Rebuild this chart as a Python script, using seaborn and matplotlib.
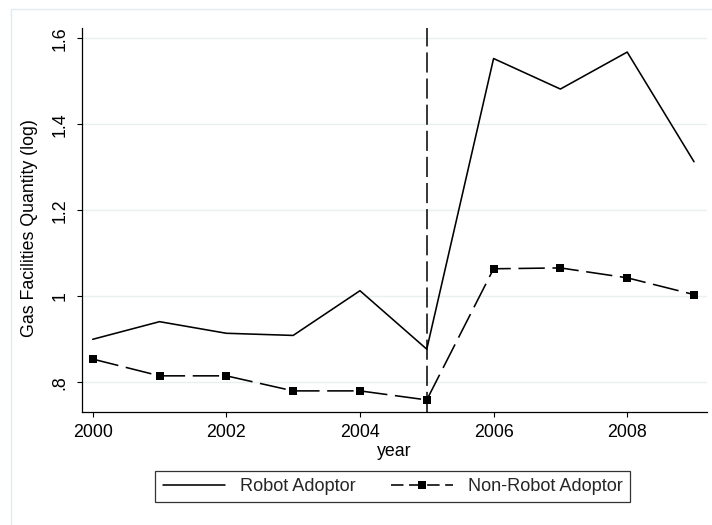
import matplotlib
matplotlib.use("Agg")
import matplotlib.pyplot as plt
from matplotlib.patches import Rectangle
import seaborn as sns
import pandas as pd

# Series values by year
years = [2000, 2001, 2002, 2003, 2004, 2005, 2006, 2007, 2008, 2009]
robot = [0.900, 0.941, 0.914, 0.909, 1.013, 0.877, 1.553, 1.482, 1.568, 1.313]
non_robot = [0.854, 0.815, 0.815, 0.780, 0.780, 0.759, 1.064, 1.066, 1.043, 1.004]
series_names = ["Robot Adoptor", "Non-Robot Adoptor"]

y_ticks = [0.8, 1.0, 1.2, 1.4, 1.6]
y_tick_labels = [".8", "1", "1.2", "1.4", "1.6"]
x_ticks = [2000, 2002, 2004, 2006, 2008]
event_year = 2005

sns.set_theme(style="white")
plt.rcParams["font.family"] = ["Liberation Sans", "DejaVu Sans"]
plt.rcParams["lines.scale_dashes"] = False

FS = 12.8
LEG_FS = 13.1
fig = plt.figure(figsize=(7.12, 5.25), dpi=100)
fig.patch.set_facecolor("white")

# light outer graph-region frame
fig.add_artist(Rectangle((11 / 712, -0.05), 1.2, 1 - 9.3 / 525 + 0.05,
                         transform=fig.transFigure, fill=False,
                         edgecolor="#e3eaee", linewidth=1.0))

ax = fig.add_axes([81.7 / 712, 1 - 411.7 / 525, 625 / 712, 384 / 525])
ax.set_facecolor("white")

df = pd.DataFrame({"year": years, "robot": robot, "non_robot": non_robot})

sns.lineplot(data=df, x="year", y="robot", ax=ax, color="black",
             linewidth=1.15, label=series_names[0])
sns.lineplot(data=df, x="year", y="non_robot", ax=ax, color="black",
             linewidth=1.15, marker="s", markersize=6.2, markeredgewidth=0,
             label=series_names[1])
ax.lines[1].set_dashes((19, 5.5))

ax.axvline(event_year, color="black", linewidth=1.1, dashes=(14.5, 4.3))

ax.set_xlim(1999.835, 2009.19)
ax.set_ylim(0.7316, 1.6247)

ax.set_yticks(y_ticks)
ax.set_yticklabels(y_tick_labels, rotation=90, va="center")
ax.set_xticks(x_ticks)
ax.yaxis.grid(True, color="#e8f0f2", linewidth=1.0)
ax.xaxis.grid(False)
ax.set_axisbelow(True)

for side in ["top", "right"]:
    ax.spines[side].set_visible(False)
for side in ["left", "bottom"]:
    ax.spines[side].set_color("black")
    ax.spines[side].set_linewidth(0.9)

ax.tick_params(axis="both", which="major", direction="out", length=3.6,
               width=0.8, color="black", labelsize=FS, labelcolor="black",
               left=True, bottom=True)
ax.tick_params(axis="y", pad=6)
ax.tick_params(axis="x", pad=5)

ax.set_xlabel("year", fontsize=FS, color="black", labelpad=2)
ax.set_ylabel("Gas Facilities Quantity (log)", fontsize=FS, color="black",
              labelpad=9.6)
ax.yaxis.label.set_y(0.478)

handles, labels = ax.get_legend_handles_labels()
ax.get_legend().remove()
leg = fig.legend(handles, labels, ncol=2, loc="center",
                 bbox_to_anchor=(392.5 / 712, 1 - 486.4 / 525),
                 fontsize=LEG_FS, frameon=True, fancybox=False,
                 edgecolor="black", handlelength=3.45, handletextpad=0.78,
                 columnspacing=1.95, borderpad=0.4, numpoints=1)
leg.get_frame().set_linewidth(0.9)
leg.get_frame().set_facecolor("white")
for line in leg.get_lines():
    line.set_linewidth(1.15)
leg.get_lines()[1].set_dashes((9, 4))

fig.savefig("out.png", dpi=100, facecolor="white")
